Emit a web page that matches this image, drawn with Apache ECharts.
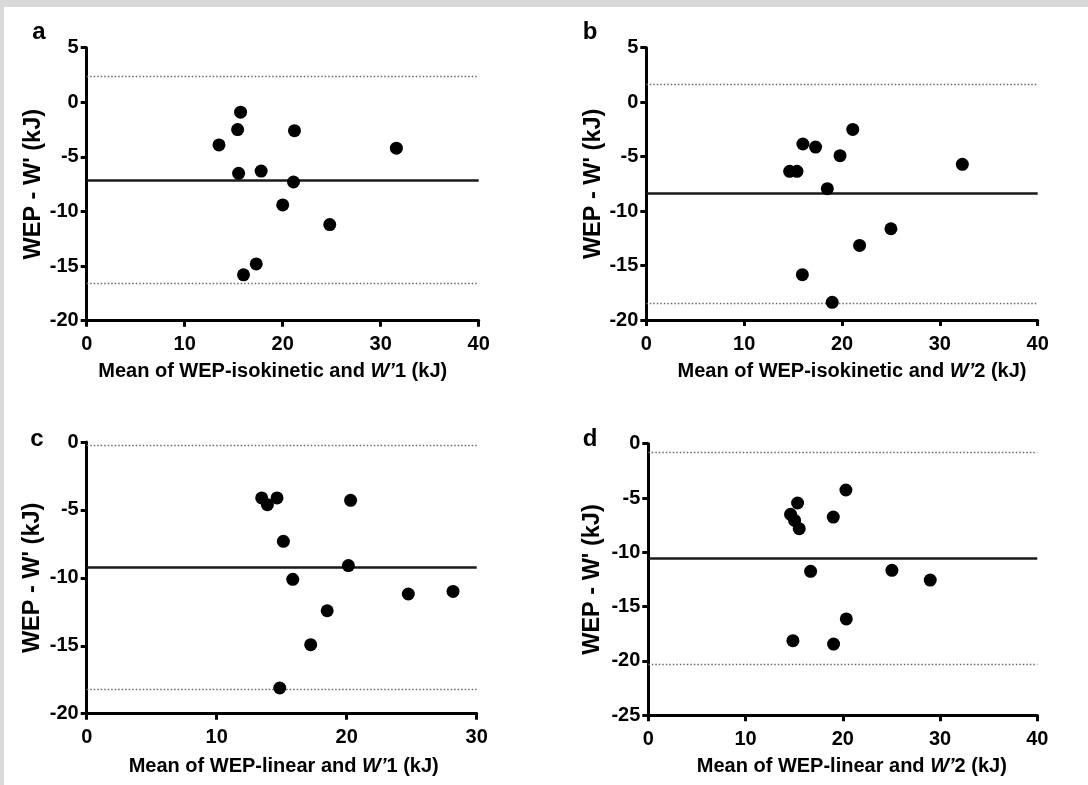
<!DOCTYPE html>
<html>
<head>
<meta charset="utf-8">
<script src="https://cdn.jsdelivr.net/npm/echarts@6/dist/echarts.min.js"></script>
<style>
  html, body { margin: 0; padding: 0; background: #d9d9d9; }
  #sheet { position: absolute; left: 4px; top: 7px; width: 1084px; height: 778px; background: #ffffff; }
  #chart { position: absolute; left: 0; top: 0; width: 1088px; height: 785px; }
</style>
</head>
<body>
<div id="sheet"></div>
<div id="chart"></div>
<script>
// ---- Data ----
const panelLetters = ['a', 'b', 'c', 'd'];

const aX = [13.5, 15.4, 15.7, 15.5, 17.8, 16.0, 17.3, 21.2, 21.1, 20.0, 24.8, 31.6];
const aY = [-3.9, -2.5, -0.9, -6.5, -6.3, -15.8, -14.8, -2.6, -7.3, -9.4, -11.2, -4.2];
const aLines = [-7.12, 2.37, -16.58];   // mean, upper LoA, lower LoA

const bX = [14.65, 15.4, 16.0, 17.3, 19.8, 21.1, 18.5, 32.3, 25.0, 21.8, 15.95, 19.0];
const bY = [-6.35, -6.35, -3.84, -4.12, -4.91, -2.5, -7.94, -5.71, -11.62, -13.15, -15.84, -18.38];
const bLines = [-8.34, 1.66, -18.44];

const cX = [13.46, 13.9, 14.64, 15.13, 15.85, 20.3, 20.13, 18.5, 17.23, 14.85, 24.74, 28.18];
const cY = [-4.12, -4.61, -4.12, -7.31, -10.11, -4.29, -9.10, -12.42, -14.92, -18.11, -11.19, -11.0];
const cLines = [-9.23, -0.25, -18.23];

const dX = [14.63, 15.04, 15.52, 15.35, 19.02, 20.32, 16.69, 25.05, 28.99, 20.36, 14.87, 19.05];
const dY = [-6.50, -7.06, -7.82, -5.46, -6.75, -4.26, -11.75, -11.66, -12.55, -16.13, -18.13, -18.44];
const dLines = [-10.55, -0.77, -20.34];

const aXTicks = [0, 10, 20, 30, 40];
const aYTicks = [-20, -15, -10, -5, 0, 5];
const bXTicks = [0, 10, 20, 30, 40];
const bYTicks = [-20, -15, -10, -5, 0, 5];
const cXTicks = [0, 10, 20, 30];
const cYTicks = [-20, -15, -10, -5, 0];
const dXTicks = [0, 10, 20, 30, 40];
const dYTicks = [-25, -20, -15, -10, -5, 0];

const xTitles = [
  'Mean of WEP-isokinetic and {i|W\u2019}1 (kJ)',
  'Mean of WEP-isokinetic and {i|W\u2019}2 (kJ)',
  'Mean of WEP-linear and {i|W\u2019}1 (kJ)',
  'Mean of WEP-linear and {i|W\u2019}2 (kJ)'
];
const yTitle = "WEP - W' (kJ)";

// ---- Layout ----
const FONT = '"Liberation Sans", Arial, sans-serif';
const grids = [
  { left: 86.7, top: 47.7, width: 392, height: 273 },
  { left: 646.3, top: 47.7, width: 391.4, height: 272.3 },
  { left: 86.7, top: 442, width: 390, height: 271.7 },
  { left: 648.3, top: 443.7, width: 389, height: 271.6 }
];
const yNameGaps = [40, 40, 42, 44];
const xNameGaps = [41, 41, 42.8, 41.3];
const xNamePad = [[0, 20, 0, 0], [0, 0, 0, 20], [0, 0, 0, 4], [0, 0, 0, 18]];
const letterPos = [[39, 44], [590, 44], [37, 451], [590, 451]];

const panels = [
  { x: aX, y: aY, lines: aLines, xt: aXTicks, yt: aYTicks },
  { x: bX, y: bY, lines: bLines, xt: bXTicks, yt: bYTicks },
  { x: cX, y: cY, lines: cLines, xt: cXTicks, yt: cYTicks },
  { x: dX, y: dY, lines: dLines, xt: dXTicks, yt: dYTicks }
];

const axisLine = { show: true, onZero: false, lineStyle: { color: '#000', width: 3 } };
const axisTick = { show: true, inside: false, length: 6, lineStyle: { color: '#000', width: 3 } };
const labelStyle = { color: '#000', fontFamily: FONT, fontWeight: 'bold', fontSize: 20 };

const xAxes = [], yAxes = [], series = [], graphics = [];
panels.forEach((p, i) => {
  xAxes.push({
    type: 'value', gridIndex: i,
    min: p.xt[0], max: p.xt[p.xt.length - 1], interval: p.xt[1] - p.xt[0],
    axisLine, axisTick,
    splitLine: { show: false },
    axisLabel: Object.assign({ margin: 14 }, labelStyle),
    name: xTitles[i], nameLocation: 'middle', nameGap: xNameGaps[i],
    nameTextStyle: {
      color: '#000', fontFamily: FONT, fontWeight: 'bold', fontSize: 20, padding: xNamePad[i],
      rich: { i: { fontStyle: 'italic', fontWeight: 'bold', fontFamily: FONT, fontSize: 20, color: '#000' } }
    }
  });
  yAxes.push({
    type: 'value', gridIndex: i,
    min: p.yt[0], max: p.yt[p.yt.length - 1], interval: p.yt[1] - p.yt[0],
    axisLine, axisTick,
    splitLine: { show: false },
    axisLabel: Object.assign({ margin: 8 }, labelStyle),
    name: yTitle, nameLocation: 'middle', nameGap: yNameGaps[i], nameRotate: 90,
    nameTextStyle: { color: '#000', fontFamily: FONT, fontWeight: 'bold', fontSize: 23.5 }
  });
  series.push({
    type: 'scatter', xAxisIndex: i, yAxisIndex: i,
    symbol: 'circle', symbolSize: 13,
    itemStyle: { color: '#000', opacity: 1 },
    data: p.x.map((v, k) => [v, p.y[k]]),
    z: 5,
    markLine: {
      silent: true, symbol: 'none', animation: false,
      label: { show: false },
      data: [
        { yAxis: p.lines[0], lineStyle: { color: '#1a1a1a', width: 2.5, type: 'solid' } },
        { yAxis: p.lines[1], lineStyle: { color: '#6a6a6a', width: 1.3, type: [1.5, 2] } },
        { yAxis: p.lines[2], lineStyle: { color: '#6a6a6a', width: 1.3, type: [1.5, 2] } }
      ]
    }
  });
  graphics.push({
    type: 'text', x: letterPos[i][0], y: letterPos[i][1],
    style: { text: panelLetters[i], fill: '#000', font: 'bold 24px ' + FONT, align: 'center', verticalAlign: 'bottom' }
  });
});

const chart = echarts.init(document.getElementById('chart'), null, { renderer: 'canvas' });
chart.setOption({
  backgroundColor: 'transparent',
  animation: false,
  grid: grids.map(g => Object.assign({ containLabel: false }, g)),
  xAxis: xAxes,
  yAxis: yAxes,
  series,
  graphic: graphics
});
</script>
</body>
</html>
